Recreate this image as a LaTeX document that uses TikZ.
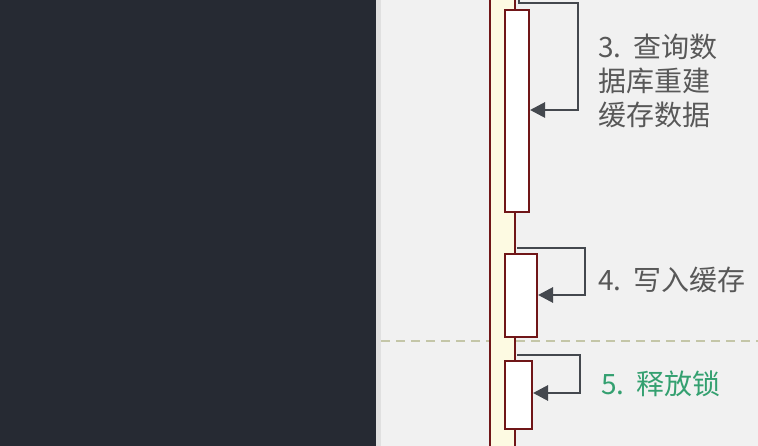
\documentclass[tikz,border=0pt]{standalone}
\usepackage{fontspec}
\newfontfamily\cjk{Noto Sans CJK SC}
\usetikzlibrary{arrows.meta,positioning,calc}
\definecolor{panel}{RGB}{38,42,51}
\definecolor{canvas}{RGB}{241,241,241}
\definecolor{lifered}{RGB}{112,22,24}
\definecolor{lifefill}{RGB}{253,250,226}
\definecolor{callgray}{RGB}{68,72,78}
\definecolor{labelgray}{RGB}{88,88,88}
\definecolor{okgreen}{RGB}{52,160,112}
\definecolor{splitline}{RGB}{196,198,168}

\begin{document}
\begin{tikzpicture}[x=1pt,y=-1pt,
  act/.style={draw=lifered,line width=2pt,fill=white,inner sep=0pt,anchor=north west},
  call/.style={callgray,line width=2.8pt,-{Triangle[length=15pt,width=15pt]}},
  lbl/.style={anchor=north west,align=left,inner sep=0pt,text=labelgray,
    font=\cjk\fontsize{28}{34}\selectfont}]
  \useasboundingbox (0,0) rectangle (758,446);
  % background: dark side panel and light canvas
  \fill[canvas] (0,0) rectangle (758,446);
  \fill[panel] (0,0) rectangle (376,446);
  \fill[black!12] (376,0) rectangle (381,446);
  \draw[splitline,line width=1.3pt,dash pattern=on 9pt off 6pt] (381,341) -- (758,341);
  % outer activation and lifeline
  \fill[lifefill] (490,0) rectangle (515,446);
  \draw[lifered,line width=1.8pt] (490,0) -- (490,446);
  \draw[lifered,line width=1.6pt] (515,0) -- (515,446);
  % inner activations
  \node[act,minimum width=24pt,minimum height=202pt] (query) at (504,9) {};
  \node[act,minimum width=32pt,minimum height=83pt] (write) at (504,253) {};
  \node[act,minimum width=27pt,minimum height=68pt] (unlock) at (504,360) {};
  % self calls
  \coordinate (s3) at (519,-2);
  \coordinate (r3) at (578,3);
  \coordinate (t3) at (0,110);
  \draw[call] (s3) |- (r3) |- (query.east |- t3);
  \coordinate (s4) at (517,248);
  \coordinate (r4) at (585,248);
  \coordinate (t4) at (0,295);
  \draw[call] (s4) -- (r4) |- (write.east |- t4);
  \coordinate (s5) at (517,355);
  \coordinate (r5) at (580,355);
  \coordinate (t5) at (0,393);
  \draw[call] (s5) -- (r5) |- (unlock.east |- t5);
  % labels
  \node[lbl] (l3) at (598,34) {3.\kern12pt查询数\\据库重建\\缓存数据};
  \node[lbl] (l4) at (598,267) {4.\kern12pt写入缓存};
  \node[lbl,text=okgreen] (l5) at (601,371) {5.\kern12pt释放锁};
\end{tikzpicture}
\end{document}
